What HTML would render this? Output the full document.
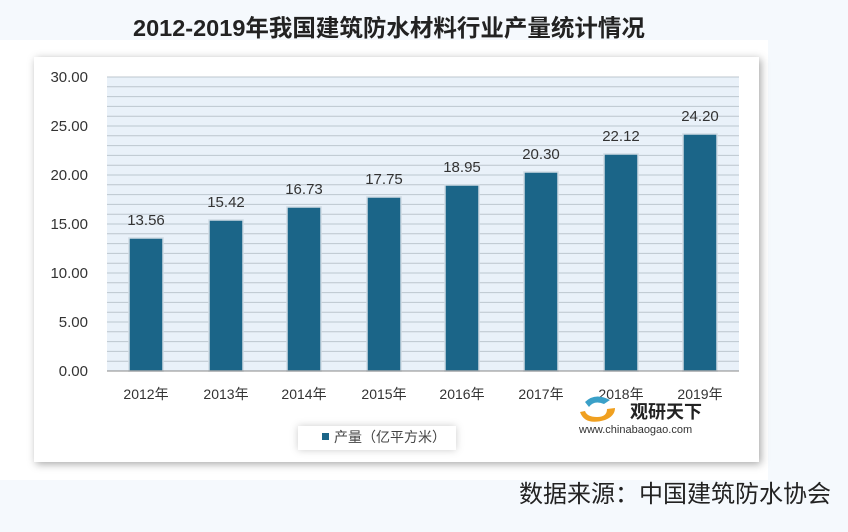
<!DOCTYPE html>
<html><head><meta charset="utf-8"><style>
body{margin:0;width:848px;height:532px;background:#f5f9fd;position:relative;overflow:hidden;font-family:"Liberation Sans","Noto Sans CJK SC",sans-serif}
.abs{position:absolute}
</style></head><body>
<div class="abs" style="top:9px;left:133px;font-size:23.5px;font-weight:bold;color:#222;white-space:nowrap">2012-2019年我国建筑防水材料行业产量统计情况</div>
<div class="abs" style="left:0;top:40px;width:768px;height:440px;background:#fff"></div>
<div class="abs" style="left:34px;top:57px;width:725px;height:405px;background:#fff;box-shadow:2px 2px 8px rgba(0,0,0,0.35)"></div>
<svg class="abs" style="left:0;top:0" width="848" height="532" font-family="Liberation Sans, Noto Sans CJK SC, sans-serif">
<rect x="107" y="77" width="632" height="294" fill="#e9f1f9"/>
<g id="grid"></g>
<g font-size="15" fill="#333" text-anchor="end">
<text x="88" y="82">30.00</text><text x="88" y="131">25.00</text><text x="88" y="180">20.00</text><text x="88" y="229">15.00</text><text x="88" y="278">10.00</text><text x="88" y="327">5.00</text><text x="88" y="376">0.00</text>
</g>
<g fill="#1b6588" stroke="#d0dbe4" stroke-width="1.5">
<rect x="129" y="238" width="34" height="133"/>
<rect x="209" y="220" width="34" height="151"/>
<rect x="287" y="207" width="34" height="164"/>
<rect x="367" y="197" width="34" height="174"/>
<rect x="445" y="185" width="34" height="186"/>
<rect x="524" y="172" width="34" height="199"/>
<rect x="604" y="154" width="34" height="217"/>
<rect x="683" y="134" width="34" height="237"/>
</g>
<line x1="107" y1="371" x2="739" y2="371" stroke="#888" stroke-width="1"/>
<g font-size="15" fill="#333" text-anchor="middle">
<text x="146" y="225">13.56</text><text x="226" y="207">15.42</text><text x="304" y="194">16.73</text><text x="384" y="184">17.75</text><text x="462" y="172">18.95</text><text x="541" y="159">20.30</text><text x="621" y="141">22.12</text><text x="700" y="121">24.20</text>
</g>
<g font-size="14" fill="#333" text-anchor="middle">
<text x="146" y="399">2012年</text><text x="226" y="399">2013年</text><text x="304" y="399">2014年</text><text x="384" y="399">2015年</text><text x="462" y="399">2016年</text><text x="541" y="399">2017年</text><text x="621" y="399">2018年</text><text x="700" y="399">2019年</text>
</g>
<rect x="298" y="426" width="158" height="24" fill="#fff" style="filter:drop-shadow(0 0 4px rgba(0,0,0,0.2))"/>
<rect x="322" y="433" width="7" height="7" fill="#1b6588"/>
<text x="334" y="442" font-size="14" fill="#444">产量（亿平方米）</text>
<path d="M585 402 q10-10 25-2 l-6 4 q-10-4-15 3z" fill="#3aa0c8"/>
<path d="M580 412 q5 14 25 8 q10-4 10-12 l-8 1 q0 8-10 8 q-10 0-12-6z" fill="#f0a020"/>
<text x="630" y="418" font-size="18" font-weight="bold" fill="#222">观研天下</text>
<text x="579" y="433" font-size="11" fill="#333">www.chinabaogao.com</text>
<text x="831" y="502" font-size="24" fill="#222" text-anchor="end">数据来源：中国建筑防水协会</text>
</svg>
<script>
var g=document.getElementById('grid'),s='';
for(var i=1;i<=30;i++){var y=371-i*9.8;s+='<line x1="107" x2="739" y1="'+y+'" y2="'+y+'" stroke="#bcc6ce" stroke-width="1"/>';}
g.innerHTML=s;
</script>
</body></html>
